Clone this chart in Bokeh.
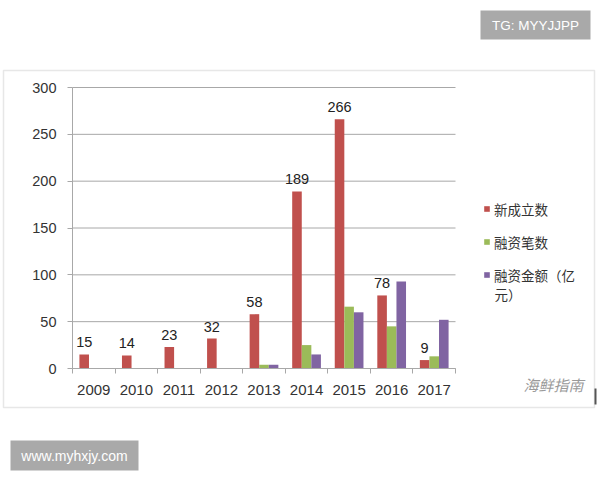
from bokeh.plotting import figure
from bokeh.models import (Range1d, FixedTicker, Legend, LegendItem, Label, BoxAnnotation,
                          ColumnDataSource)
from bokeh.transform import dodge
from bokeh.core.properties import value
from bokeh.embed import file_html
from bokeh.resources import INLINE

# ---- data ----
years = [2009, 2010, 2011, 2012, 2013, 2014, 2015, 2016, 2017]
new_founded = [15, 14, 23, 32, 58, 189, 266, 78, 9]
deal_count = [0, 0, 0, 0, 4, 25, 66, 45, 13]
deal_amount = [0, 0, 0, 0, 4, 15, 60, 93, 52]
series_names = ["新成立数", "融资笔数", "融资金额（亿", "元）"]
y_ticks = [0, 50, 100, 150, 200, 250, 300]

# ---- layout (canvas px, origin top-left) ----
W, H = 600, 480
PL, PR, PT, PB = 72, 455, 87, 368          # plot area edges
X0, X1 = years[0] - 0.5, years[-1] + 0.5   # category span
Y0, Y1 = y_ticks[0], y_ticks[-1]
kx = (PR - PL) / (X1 - X0)
ky = (PB - PT) / (Y1 - Y0)

RED, GREEN, PURPLE = "#c0504d", "#9bbb59", "#8064a2"
GRID = "#a8a8a8"
LATIN = "Liberation Sans"
CJK = "Noto Sans CJK SC"

src = ColumnDataSource(dict(years=years, new_founded=new_founded, deal_count=deal_count,
                            deal_amount=deal_amount, lbl=[str(v) for v in new_founded]))
grid_src = ColumnDataSource(dict(y=y_ticks, x0=[X0] * len(y_ticks), x1=[X1] * len(y_ticks)))

p = figure(x_range=Range1d(X0 - PL / kx, X1 + (W - PR) / kx),
           y_range=Range1d(Y0 - (H - PB) / ky, Y1 + PT / ky),
           width=W, height=H, output_backend="svg", toolbar_location=None,
           min_border=0)
p.outline_line_color = None
p.background_fill_color = "white"
p.border_fill_color = "white"
p.xgrid.visible = False
p.ygrid.visible = False

# horizontal gridlines limited to the plot area
p.segment(x0="x0", x1="x1", y0="y", y1="y", source=grid_src, line_color=GRID, line_width=1)

ya = p.yaxis[0]
ya.fixed_location = X0
ya.bounds = (Y0, Y1)
ya.ticker = FixedTicker(ticks=y_ticks)
ya.axis_line_color = GRID
ya.major_tick_line_color = GRID
ya.major_tick_out = 5
ya.major_tick_in = 0
ya.minor_tick_line_color = None
ya.major_label_standoff = 11
ya.major_label_text_font = LATIN
ya.major_label_text_font_size = "14.5px"
ya.major_label_text_color = "#333333"

xa = p.xaxis[0]
xa.fixed_location = Y0
xa.bounds = (X0, X1)
xa.ticker = FixedTicker(ticks=years, minor_ticks=[y - 0.5 for y in years] + [years[-1] + 0.5])
xa.axis_line_color = GRID
xa.major_tick_line_color = None
xa.minor_tick_line_color = GRID
xa.minor_tick_out = 5
xa.minor_tick_in = 0
xa.major_label_standoff = 10
xa.major_label_text_font = LATIN
xa.major_label_text_font_size = "15px"
xa.major_label_text_color = "#333333"

bw = 0.225
r1 = p.vbar(x=dodge("years", -bw), top="new_founded", width=bw,
            source=src, fill_color=RED, line_color=None)
r2 = p.vbar(x=dodge("years", 0), top="deal_count", width=bw,
            source=src, fill_color=GREEN, line_color=None)
r3 = p.vbar(x=dodge("years", bw), top="deal_amount", width=bw,
            source=src, fill_color=PURPLE, line_color=None)

p.text(x=dodge("years", -bw), y="new_founded", text="lbl", source=src,
       text_align="center", text_baseline="alphabetic", y_offset=-12,
       text_font=value(LATIN), text_font_size="14.5px", text_color="#222222")

legend = Legend(items=[LegendItem(label=series_names[0], renderers=[r1]),
                       LegendItem(label=series_names[1], renderers=[r2]),
                       LegendItem(label=series_names[2], renderers=[r3])],
                location=(483, H - 285), padding=0, margin=0, spacing=12,
                glyph_width=7, glyph_height=7, label_height=21, label_standoff=4,
                border_line_color=None, background_fill_alpha=0,
                label_text_font=CJK, label_text_font_size="13.5px", label_text_color="#333333")
p.add_layout(legend, "center")

p.add_layout(Label(x=494, y=H - 293, x_units="screen", y_units="screen", text=series_names[3],
                   text_baseline="middle", text_font=CJK, text_font_size="13.5px",
                   text_color="#333333"))


def box(l, r, t, b, **kw):
    return BoxAnnotation(left=l, right=r, top=H - t, bottom=H - b,
                         left_units="screen", right_units="screen", top_units="screen",
                         bottom_units="screen", **kw)


# outer chart frame
p.add_layout(box(3, 594, 70, 407, fill_alpha=0, line_color="#b0b0b0", line_width=1.5))
p.add_layout(box(594, 596, 388, 404, fill_color="#555555", fill_alpha=1, line_color=None))

# watermark boxes
p.add_layout(box(480, 590, 10, 39, fill_color="#a9a9a9", fill_alpha=1, line_color=None))
p.add_layout(Label(x=535, y=H - 25, x_units="screen", y_units="screen", text="TG: MYYJJPP",
                   text_align="center", text_baseline="middle", text_font=LATIN,
                   text_font_size="13.5px", text_color="white"))
p.add_layout(box(10, 138, 440, 470, fill_color="#a9a9a9", fill_alpha=1, line_color=None))
p.add_layout(Label(x=74, y=H - 455, x_units="screen", y_units="screen", text="www.myhxjy.com",
                   text_align="center", text_baseline="middle", text_font=LATIN,
                   text_font_size="14px", text_color="white"))
p.add_layout(Label(x=523, y=H - 384, x_units="screen", y_units="screen", text="海鲜指南",
                   text_baseline="middle", text_font=CJK, text_font_style="italic",
                   text_font_size="15px", text_color="#9a9a9a"))

open("out.html", "w").write(file_html(p, INLINE))
